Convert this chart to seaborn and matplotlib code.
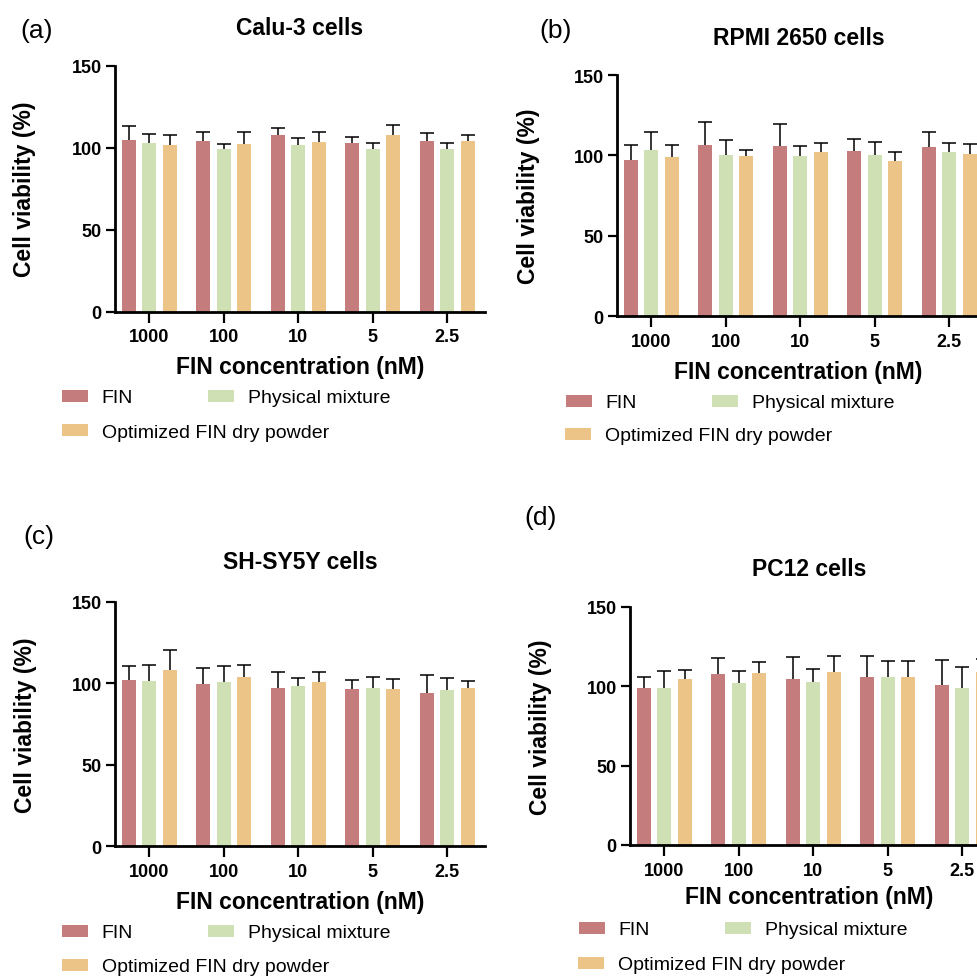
import numpy as np
import pandas as pd
import matplotlib
matplotlib.use("Agg")
import matplotlib.pyplot as plt
import seaborn as sns
from matplotlib.patches import Patch

sns.set_theme(style="ticks")
plt.rcParams["font.family"] = ["Liberation Sans", "DejaVu Sans"]
plt.rcParams.update({"text.color": "black", "axes.labelcolor": "black",
                     "xtick.color": "black", "ytick.color": "black",
                     "axes.edgecolor": "black"})

# ---------------- data ----------------
concentrations = ["1000", "100", "10", "5", "2.5"]
series = ["FIN", "Physical mixture", "Optimized FIN dry powder"]
colors = ["#C47C7C", "#CFE0B5", "#EDC487"]

titles = ["Calu-3 cells", "RPMI 2650 cells", "SH-SY5Y cells", "PC12 cells"]
panel_tags = ["(a)", "(b)", "(c)", "(d)"]

calu3_means = [[104.7, 104.0, 107.5, 103.0, 104.0],
               [103.0, 99.0, 101.6, 99.4, 99.4],
               [101.6, 102.2, 103.5, 107.5, 104.0]]
calu3_sds = [[8.7, 5.3, 4.7, 3.7, 5.1],
             [5.3, 3.4, 4.1, 3.4, 3.4],
             [6.1, 7.6, 6.3, 6.5, 3.9]]

rpmi_means = [[97.4, 106.7, 105.9, 103.0, 105.2],
              [103.6, 100.5, 99.9, 100.1, 102.1],
              [99.2, 99.9, 102.3, 96.7, 101.1]]
rpmi_sds = [[9.3, 13.9, 13.8, 7.4, 9.6],
            [11.2, 8.9, 6.2, 8.2, 5.6],
            [7.1, 3.7, 5.2, 5.6, 6.0]]

shsy5y_means = [[102.0, 99.3, 97.1, 96.5, 94.0],
                [101.4, 101.0, 98.1, 97.1, 95.6],
                [108.3, 104.0, 100.8, 96.5, 96.9]]
shsy5y_sds = [[8.6, 9.8, 9.6, 5.7, 11.0],
              [9.6, 9.6, 5.1, 6.7, 7.6],
              [11.9, 7.4, 6.3, 6.3, 4.7]]

pc12_means = [[98.8, 107.6, 104.5, 105.9, 100.5],
              [98.8, 102.2, 102.8, 105.9, 98.8],
              [104.5, 108.2, 108.7, 105.9, 108.7]]
pc12_sds = [[6.9, 10.3, 14.0, 13.3, 15.7],
            [10.7, 7.5, 7.7, 9.7, 13.0],
            [5.6, 7.0, 10.2, 9.7, 8.6]]

yticks = [0, 50, 100, 150]

# ---------------- layout (pixels) ----------------
W, H = 977, 978
fig = plt.figure(figsize=(W / 100, H / 100), dpi=100)

# left px, top px (value 150), bottom px (value 0), width px
axes_px = [(115, 66.7, 312.7, 370),
           (617, 76.0, 317.3, 363),
           (115, 602.7, 847.3, 370),
           (630, 607.7, 846.0, 358)]
title_y_px = [29, 38, 563, 570]
xlabel_y_px = [368, 373, 903, 898]
ylabel_x_px = [25, 529, 26, 541]
tag_xy_px = [(37, 31), (556, 31), (39, 537), (541, 518)]
legend_rows_px = [((62, 399), (62, 433)),
                  ((566, 404), (565, 437)),
                  ((62, 934), (62, 968)),
                  ((579, 931), (578, 966))]

all_means = [calu3_means, rpmi_means, shsy5y_means, pc12_means]
all_sds = [calu3_sds, rpmi_sds, shsy5y_sds, pc12_sds]

for i in range(4):
    lpx, tpx, bpx, wpx = axes_px[i]
    hpx = bpx - tpx
    ax = fig.add_axes([lpx / W, 1 - bpx / H, wpx / W, hpx / H])

    rows = []
    for s, name in enumerate(series):
        for c, conc in enumerate(concentrations):
            rows.append({"conc": conc, "series": name,
                         "value": all_means[i][s][c], "sd": all_sds[i][s][c]})
    df = pd.DataFrame(rows)

    sns.barplot(data=df, x="conc", y="value", hue="series", order=concentrations,
                hue_order=series, palette=colors, saturation=1, errorbar=None,
                width=0.82, gap=0.32, linewidth=0, legend=False, ax=ax)

    # one-sided (upper) error bars at the positions of the drawn bars
    bar_containers = list(ax.containers)
    for s, cont in enumerate(bar_containers):
        xs = [b.get_x() + b.get_width() / 2 for b in cont.patches]
        sd = np.array(all_sds[i][s])
        _, caps, _ = ax.errorbar(xs, all_means[i][s],
                                 yerr=[np.zeros_like(sd), sd],
                                 fmt="none", ecolor="black", elinewidth=1.1,
                                 capsize=5.0, capthick=1.1, zorder=1)
        caps[0].set_visible(False)  # no cap at the bar top

    ax.set_ylim(0, 150)
    ax.set_yticks(yticks)
    ax.set_xlim(-0.46, -0.46 + wpx / 74.5)
    sns.despine(ax=ax)
    for sp in ["left", "bottom"]:
        ax.spines[sp].set_linewidth(2.0)
    ax.tick_params(axis="y", length=6.5, width=1.6, pad=3, labelsize=13)
    ax.tick_params(axis="x", length=8, width=1.6, pad=4, labelsize=13)
    for lab in ax.get_xticklabels() + ax.get_yticklabels():
        lab.set_fontweight("bold")

    ax.set_title(titles[i], fontsize=16.5, fontweight="bold",
                 y=1 + (tpx - title_y_px[i]) / hpx, va="center", pad=0)
    ax.set_xlabel("FIN concentration (nM)", fontsize=16.5, fontweight="bold")
    ax.xaxis.set_label_coords(0.5, -(xlabel_y_px[i] - bpx) / hpx)
    ax.xaxis.label.set_va("center")
    ax.set_ylabel("Cell viability (%)", fontsize=16.5, fontweight="bold")
    ax.yaxis.set_label_coords((ylabel_x_px[i] - lpx) / wpx, 0.5)
    ax.yaxis.label.set_va("center")
    ax.yaxis.label.set_ha("center")

    tx, ty = tag_xy_px[i]
    fig.text(tx / W, 1 - ty / H, panel_tags[i], fontsize=19,
             ha="center", va="center")

    handles = [Patch(facecolor=c, edgecolor="none") for c in colors]
    (r1x, r1y), (r2x, r2y) = legend_rows_px[i]
    common = dict(frameon=False, fontsize=14, handlelength=1.33,
                  handleheight=0.56, handletextpad=0.71, borderpad=0,
                  borderaxespad=0, loc="center left")
    fig.legend(handles[:2], series[:2], ncol=2, columnspacing=3.85,
               bbox_to_anchor=(r1x / W, 1 - r1y / H), **common)
    fig.legend(handles[2:], series[2:], ncol=1,
               bbox_to_anchor=(r2x / W, 1 - r2y / H), **common)

fig.savefig("out.png", dpi=100)
